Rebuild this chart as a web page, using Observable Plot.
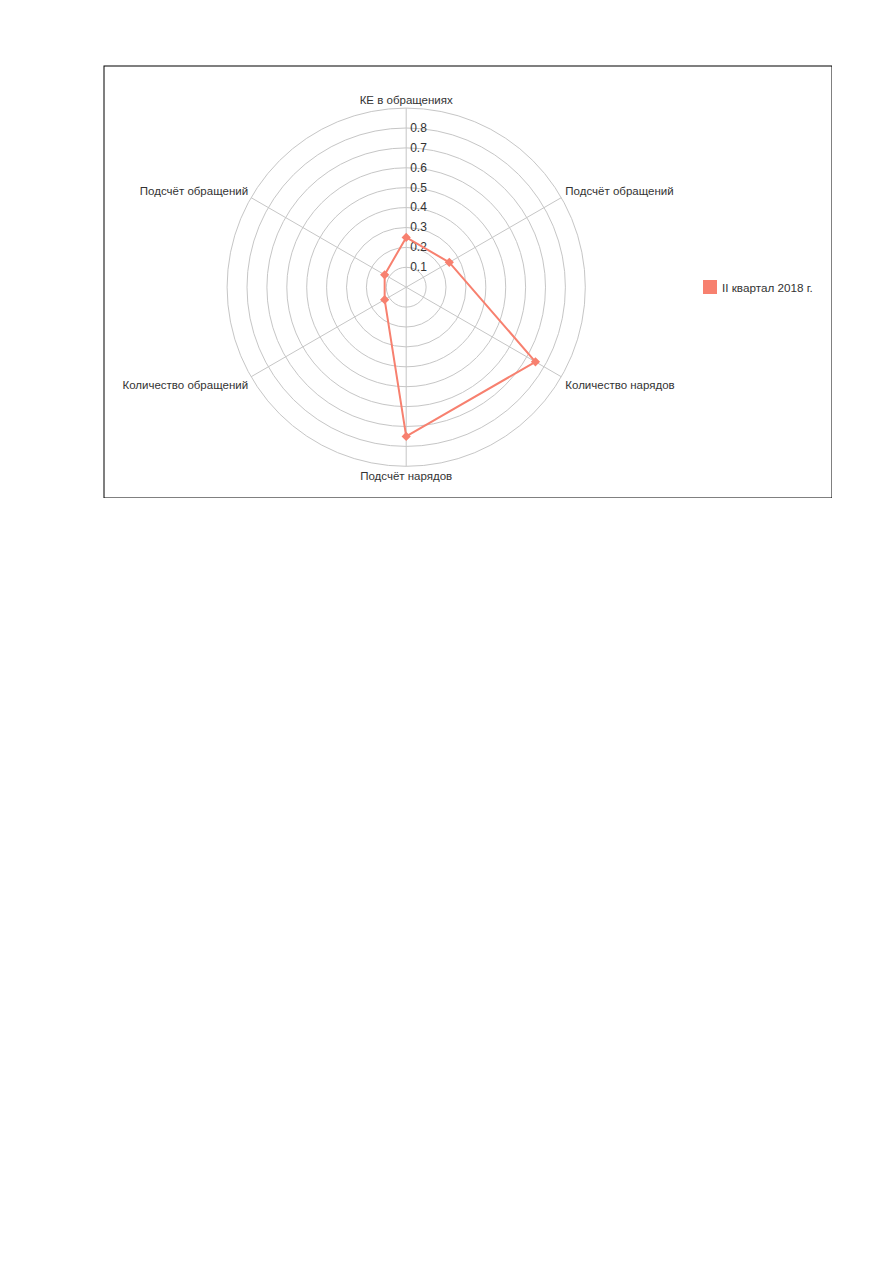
<!DOCTYPE html>
<html>
<head>
<meta charset="utf-8">
<script src="https://cdn.jsdelivr.net/npm/d3@7"></script>
<script src="https://cdn.jsdelivr.net/npm/@observablehq/plot@0.6"></script>
<style>
  html, body { margin: 0; padding: 0; background: #fff; }
  #page { position: relative; width: 893px; height: 1263px; font-family: "Liberation Sans", Arial, sans-serif; }
  #chart { position: absolute; left: 103px; top: 65px; }
  #legend { position: absolute; left: 703px; top: 280px; display: flex; align-items: center; font-size: 11.7px; color: #333; }
  #legend .sw { width: 14px; height: 14px; background: #f7806f; margin-right: 5px; }
</style>
</head>
<body>
<div id="page">
  <div id="chart"></div>
  <div id="legend"></div>
</div>
<script>
// ---- data ----
const categories = ["КЕ в обращениях", "Подсчёт обращений", "Количество нарядов", "Подсчёт нарядов", "Количество обращений", "Подсчёт обращений"];
const values = [0.25, 0.25, 0.75, 0.75, 0.125, 0.125];
const seriesName = "II квартал 2018 г.";
const ringLevels = [0.1, 0.2, 0.3, 0.4, 0.5, 0.6, 0.7, 0.8, 0.9];
const tickValues = [0.1, 0.2, 0.3, 0.4, 0.5, 0.6, 0.7, 0.8];
const tickLabels = ["0.1", "0.2", "0.3", "0.4", "0.5", "0.6", "0.7", "0.8"];
const maxValue = 0.9;

// ---- layout ----
const W = 729, H = 433;
const cx = 302.7, cy = 221.7, k = 199;
const lineColor = "#f7806f";
const gridColor = "#c6c6c6";
const textColor = "#333";
const labelSize = 11.5;

const n = categories.length;
const rows = categories.map((c, i) => ({
  i, category: c, value: values[i],
  angle: (2 * Math.PI * i) / n
}));
const px = (d, r) => r * Math.sin(d.angle);
const py = (d, r) => r * Math.cos(d.angle);

const labelGroups = [
  {ids: [0], textAnchor: "middle", lineAnchor: "bottom", dx: 0, dy: -4},
  {ids: [1], textAnchor: "start", lineAnchor: "bottom", dx: 4, dy: -3},
  {ids: [5], textAnchor: "end", lineAnchor: "bottom", dx: -3, dy: -3},
  {ids: [2], textAnchor: "start", lineAnchor: "top", dx: 4, dy: 4},
  {ids: [4], textAnchor: "end", lineAnchor: "top", dx: -3, dy: 4},
  {ids: [3], textAnchor: "middle", lineAnchor: "top", dx: 0, dy: 6}
];

const chart = Plot.plot({
  width: W,
  height: H,
  margin: 0,
  style: {fontFamily: "'Liberation Sans', Arial, sans-serif", fontSize: "12px", background: "#fff"},
  x: {domain: [-cx / k, (W - cx) / k], range: [0, W], axis: null},
  y: {domain: [-(H - cy) / k, cy / k], range: [H, 0], axis: null},
  r: {type: "linear", domain: [0, 1], range: [0, k]},
  marks: [
    Plot.frame({stroke: "#000", strokeWidth: 1, inset: 0.5}),
    Plot.dot(ringLevels, {x: () => 0, y: () => 0, r: d => d, fill: "none", stroke: gridColor, strokeWidth: 1}),
    Plot.link(rows, {x1: () => 0, y1: () => 0, x2: d => px(d, maxValue), y2: d => py(d, maxValue), stroke: gridColor, strokeWidth: 1}),
    Plot.text(tickValues, {x: () => 0, y: d => d, text: (d, i) => tickLabels[i], textAnchor: "start", dx: 4, fill: textColor, fontSize: 12}),
    Plot.line(rows, {x: d => px(d, d.value), y: d => py(d, d.value), curve: "linear-closed", stroke: lineColor, strokeWidth: 2}),
    Plot.dot(rows, {x: d => px(d, d.value), y: d => py(d, d.value), symbol: "diamond2", r: 3.2, fill: lineColor, stroke: lineColor}),
    ...labelGroups.map(g => Plot.text(rows.filter(d => g.ids.includes(d.i)), {
      x: d => px(d, maxValue), y: d => py(d, maxValue), text: "category",
      textAnchor: g.textAnchor, lineAnchor: g.lineAnchor, dx: g.dx, dy: g.dy,
      fill: textColor, fontSize: labelSize
    }))
  ]
});
document.getElementById("chart").appendChild(chart);

const legend = document.getElementById("legend");
const sw = document.createElement("div");
sw.className = "sw";
const lt = document.createElement("span");
lt.textContent = seriesName;
legend.appendChild(sw);
legend.appendChild(lt);
</script>
</body>
</html>
